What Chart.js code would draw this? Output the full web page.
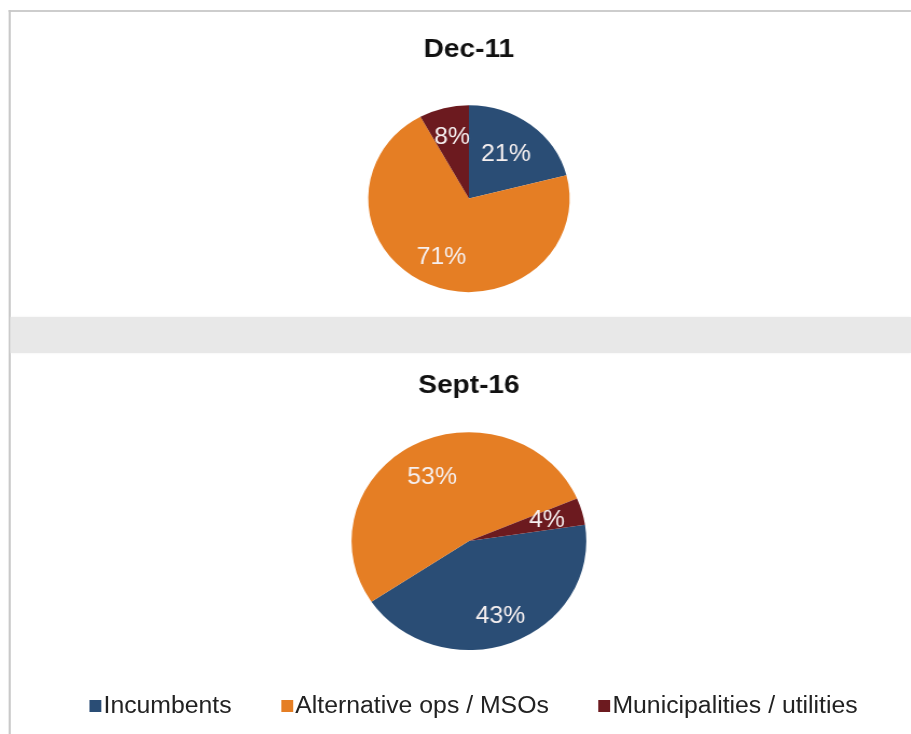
<!DOCTYPE html>
<html>
<head>
<meta charset="utf-8">
<script src="https://cdn.jsdelivr.net/npm/chart.js@4/dist/chart.umd.min.js"></script>
<style>
html,body{margin:0;padding:0;background:#fff;overflow:hidden}
#page{position:relative;width:845px;height:734px;transform:scaleX(1.078);transform-origin:0 0;font-family:"Liberation Sans",Arial,sans-serif}
.frameTop{position:absolute;left:8px;right:0;top:10px;height:2px;background:#cdcdcd}
.frameLeft{position:absolute;left:8px;top:10px;width:2px;bottom:0;background:#c9c9c9}
.band{position:absolute;left:10px;right:0;top:317px;height:36px;background:#e8e8e8;box-shadow:0 0 2px #eee}
canvas{position:absolute;left:0}
#legend{position:absolute;left:83px;top:692px;display:flex;gap:46px;font-size:23px;color:#222;white-space:nowrap}
#legend .item{display:flex;align-items:center}
#legend .box{width:11px;height:12px;margin-right:2px;margin-top:1px}
</style>
</head>
<body>
<div id="page">
  <div class="frameTop"></div>
  <div class="frameLeft"></div>
  <div class="band"></div>
  <canvas id="pieDec11" width="845" height="300" style="top:12px"></canvas>
  <canvas id="pieSep16" width="845" height="316" style="top:356px"></canvas>
  <div id="legend"></div>
</div>
<script>
// ── operator share pies ──
const categories=['Incumbents','Alternative ops / MSOs','Municipalities / utilities'];
const colors=['#2a4d75','#e57e24','#6c1a1f'];
const dec11Values=[21,71,8];
const sep16Values=[43,53,4];

// in-slice percentage labels, radius as a fraction of the pie radius
const sliceLabels={
  id:'sliceLabels',
  afterDatasetsDraw(chart,args,opts){
    const ctx=chart.ctx;
    const meta=chart.getDatasetMeta(0);
    const vals=chart.data.datasets[0].data;
    ctx.save();
    ctx.font='23px "Liberation Sans", Arial, sans-serif';
    ctx.fillStyle='#f6f0f0';
    ctx.textAlign='center';ctx.textBaseline='middle';
    meta.data.forEach((arc,i)=>{
      const p=arc.getProps(['x','y','startAngle','endAngle','outerRadius'],true);
      const mid=(p.startAngle+p.endAngle)/2;
      const r=p.outerRadius*(opts.radius[i]||0.65);
      ctx.fillText(vals[i]+'%',p.x+Math.cos(mid)*r,p.y+Math.sin(mid)*r);
    });
    ctx.restore();
  }
};

function makePie(id,title,values,rotation,titlePad,layoutPad,labelRadius){
  return new Chart(document.getElementById(id),{
    type:'pie',
    data:{labels:categories,datasets:[{data:values,backgroundColor:colors,borderWidth:0,hoverOffset:0}]},
    options:{
      responsive:false,animation:false,rotation,
      layout:{padding:layoutPad},
      plugins:{
        legend:{display:false},tooltip:{enabled:false},
        title:{display:true,text:title,color:'#111',
          font:{size:26,weight:'bold',family:'"Liberation Sans", Arial, sans-serif',lineHeight:1.2},
          padding:titlePad},
        sliceLabels:{radius:labelRadius}
      }
    },
    plugins:[sliceLabels]
  });
}

makePie('pieDec11','Dec-11',dec11Values,0,{top:22,bottom:40},{left:25,bottom:20},[0.60,0.69,0.675]);
makePie('pieSep16','Sept-16',sep16Values,81.4,{top:14,bottom:31},{left:25,bottom:22},[0.74,0.66,0.69]);

// shared legend under both pies
const lg=document.getElementById('legend');
lg.innerHTML=categories.map((c,i)=>`<div class="item"><span class="box" style="background:${colors[i]}"></span>${c}</div>`).join('');
</script>
</body>
</html>
